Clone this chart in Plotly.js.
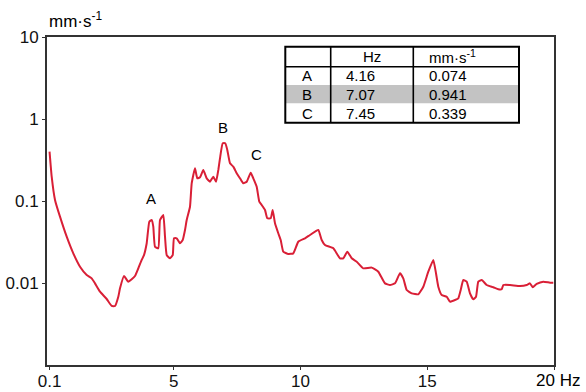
<!DOCTYPE html>
<html>
<head>
<meta charset="utf-8">
<script src="https://cdn.plot.ly/plotly-3.0.1.min.js"></script>
<style>html,body{margin:0;padding:0;background:#fff;}#chart{width:586px;height:392px;}</style>
</head>
<body>
<div id="chart"></div>
<script>
// ---- data ----
const freqHz = [0.1,0.185,0.316,0.513,0.777,1.037,1.302,1.566,1.763,1.893,2.091,2.355,2.552,2.682,2.813,2.880,3.037,3.207,3.341,3.471,3.602,3.736,3.826,3.933,4.036,4.130,4.193,4.260,4.391,4.458,4.588,4.655,4.722,4.852,4.959,5.010,5.116,5.247,5.353,5.444,5.511,5.641,5.708,5.838,5.929,6.036,6.166,6.300,6.430,6.560,6.667,6.758,6.824,6.931,7.034,7.112,7.219,7.349,7.483,7.613,7.744,7.878,8.036,8.138,8.272,8.375,8.469,8.600,8.690,8.824,8.903,8.994,9.124,9.219,9.321,9.519,9.716,9.913,10.178,10.375,10.702,10.836,10.966,11.294,11.558,11.688,11.846,12.020,12.217,12.477,12.809,13.069,13.333,13.531,13.728,13.925,14.055,14.189,14.387,14.647,14.844,15.041,15.239,15.345,15.436,15.570,15.767,15.897,16.095,16.225,16.320,16.422,16.556,16.686,16.817,16.923,17.014,17.148,17.345,17.606,17.803,17.937,18.000,18.264,18.659,18.923,19.053,19.160,19.318,19.578,19.842,19.972];
const velocity = [0.40,0.198,0.103,0.0644,0.0367,0.0230,0.0158,0.01253,0.0114,0.0099,0.00783,0.00638,0.00525,0.00525,0.00681,0.00861,0.01217,0.01037,0.01109,0.01217,0.0151,0.0191,0.0219,0.0305,0.0560,0.0586,0.0486,0.0277,0.0265,0.0586,0.0675,0.0367,0.0219,0.0200,0.0219,0.0351,0.0351,0.0305,0.0334,0.0443,0.0586,0.0851,0.164,0.2506,0.189,0.1945,0.239,0.189,0.172,0.198,0.172,0.239,0.332,0.506,0.506,0.419,0.288,0.262,0.218,0.189,0.164,0.172,0.221,0.189,0.149,0.098,0.0894,0.0777,0.0615,0.0615,0.0777,0.0535,0.0404,0.0334,0.0241,0.0226,0.0230,0.0319,0.0351,0.0385,0.0443,0.0334,0.0290,0.0265,0.0200,0.0200,0.0241,0.0200,0.0182,0.0151,0.0154,0.01374,0.0099,0.00946,0.0099,0.01313,0.0114,0.00822,0.00748,0.00728,0.00901,0.01374,0.0191,0.01313,0.00901,0.00714,0.00681,0.00592,0.00621,0.00651,0.00822,0.01088,0.01037,0.00748,0.00632,0.00681,0.01037,0.01088,0.00946,0.00887,0.00838,0.00838,0.00946,0.00946,0.00919,0.00946,0.0099,0.00887,0.00973,0.01037,0.01009,0.01009];

const xTickVals = [0.1, 5, 10, 15, 20];
const xTickLabels = ['0.1', '5', '10', '15', '20 Hz'];
const yTickVals = [0.01, 0.1, 1, 10];
const yTickLabels = ['0.01', '0.1', '1', '10'];
const yUnit = 'mm·s<sup>-1</sup>';

const peakNames = ['A', 'B', 'C'];
const peakFreqs = ['4.16', '7.07', '7.45'];
const peakAmps = ['0.074', '0.941', '0.339'];
const tableHeader = ['', 'Hz', 'mm·s<sup>-1</sup>'];

// ---- layout helpers (pixel -> paper) ----
const L = 47, R = 554, T = 37, B = 365;
const px = x => (x - L) / (R - L);
const py = y => (B - y) / (B - T);
const FONT = 'Liberation Sans, Arial, sans-serif';

const trace = {
  x: freqHz, y: velocity, type: 'scatter', mode: 'lines',
  line: {color: '#d91f36', width: 2, shape: 'spline', smoothing: 0.4},
  hoverinfo: 'skip'
};

const annotations = [];
function txt(text, x, y, size, xanchor) {
  annotations.push({text: text, xref: 'paper', yref: 'paper', x: px(x), y: py(y),
    xanchor: xanchor || 'center', yanchor: 'middle', showarrow: false,
    font: {family: FONT, size: size, color: '#000'}, borderpad: 0});
}
// unit title
txt(yUnit, 48, 20, 17, 'left');
// "20 Hz" label
txt(xTickLabels[4], 535, 380.5, 17, 'left');
// peak labels (A, B, C) placed above peaks
const peakLabelPos = [[151, 198], [222.5, 127], [256.5, 154]];
peakNames.forEach((n, i) => txt(n, peakLabelPos[i][0], peakLabelPos[i][1], 15, 'center'));

// table
const colX = [285.3, 330.7, 413.3, 519];
const rowY = [46.7, 66.7, 85, 103.3, 122.7];
const shapes = [];
shapes.push({type: 'rect', xref: 'paper', yref: 'paper', x0: px(colX[0]), x1: px(colX[3]),
  y0: py(rowY[2]), y1: py(rowY[3]), fillcolor: '#c3c3c3', line: {width: 0}, layer: 'above'});
shapes.push({type: 'rect', xref: 'paper', yref: 'paper', x0: px(colX[0]), x1: px(colX[3]),
  y0: py(rowY[0]), y1: py(rowY[4]), line: {color: '#000', width: 2}, layer: 'above'});
[1, 2].forEach(i => shapes.push({type: 'line', xref: 'paper', yref: 'paper', x0: px(colX[i]), x1: px(colX[i]),
  y0: py(rowY[0]), y1: py(rowY[4]), line: {color: '#000', width: 1.6}}));
shapes.push({type: 'line', xref: 'paper', yref: 'paper', x0: px(colX[0]), x1: px(colX[3]),
  y0: py(rowY[1]), y1: py(rowY[1]), line: {color: '#000', width: 1.6}});

const textX = [301, 344.5, 428];
txt(tableHeader[1], 362, (rowY[0] + rowY[1]) / 2, 15, 'left');
txt(tableHeader[2], textX[2], (rowY[0] + rowY[1]) / 2, 15, 'left');
for (let i = 0; i < 3; i++) {
  const yc = (rowY[i + 1] + rowY[i + 2]) / 2;
  txt(peakNames[i], textX[0], yc, 15, 'left');
  txt(peakFreqs[i], textX[1], yc, 15, 'left');
  txt(peakAmps[i], textX[2], yc, 15, 'left');
}

const axisCommon = {
  showline: true, linecolor: '#333', linewidth: 2, mirror: true,
  ticks: 'outside', ticklen: 3, tickcolor: '#333', tickwidth: 1,
  showgrid: false, zeroline: false,
  tickfont: {family: FONT, size: 17, color: '#111'}
};

const layout = {
  width: 586, height: 392,
  margin: {l: L, r: 586 - R, t: T, b: 392 - B, pad: 0},
  paper_bgcolor: '#fff', plot_bgcolor: '#fff',
  showlegend: false,
  xaxis: Object.assign({}, axisCommon, {
    range: [0, 20], tickmode: 'array', tickvals: xTickVals,
    ticktext: xTickLabels.map((t, i) => i === 4 ? '' : t),
    ticklabelstandoff: -3
  }),
  yaxis: Object.assign({}, axisCommon, {
    type: 'log', range: [-3, 1], tickmode: 'array', tickvals: yTickVals, ticktext: yTickLabels
  }),
  shapes: shapes,
  annotations: annotations
};

Plotly.newPlot('chart', [trace], layout, {staticPlot: true, displayModeBar: false});
</script>
</body>
</html>
